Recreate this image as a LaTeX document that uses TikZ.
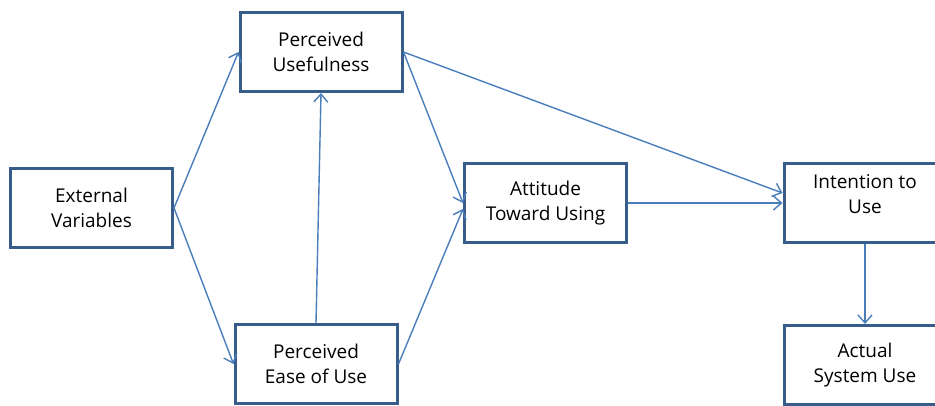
\documentclass[tikz,border=0pt]{standalone}
\usepackage{fontspec}
\setmainfont{Open Sans}
\usetikzlibrary{arrows.meta}
\definecolor{boxblue}{HTML}{385D8A}
\definecolor{lineblue}{HTML}{4A7EBB}

\begin{document}
\begin{tikzpicture}[x=1pt,y=-1pt,
  font=\fontsize{19}{25}\selectfont,
  factor/.style={draw=boxblue,line width=3pt,fill=white,align=center,
    minimum width=162pt,minimum height=79pt,inner sep=0},
  plain/.style={},
  raised/.style={text depth=17pt},
  link/.style={-{Straight Barb[length=8pt,width=14pt]},draw=lineblue,line width=1.4pt}]
  \useasboundingbox (0,0) rectangle (935,405);
  \foreach \name/\x/\y/\opt/\txt in {
    ev/91.5/208/plain/{External\\Variables},pu/321/52/plain/{Perceived\\Usefulness},
    peou/316/364/plain/{Perceived\\Ease of Use},att/545.5/203/plain/{Attitude\\Toward Using},
    int/865/203/raised/{Intention to\\Use},asu/865/365/plain/{Actual\\System Use}}
    \node[factor,\opt] (\name) at (\x,\y) {\txt};

  \foreach \a/\b in {ev.east/pu.west,ev.east/peou.west,peou.north/pu.south,
    pu.east/att.west,att.east/int.west,int.south/asu.north} {
    \draw[link] (\a) -- (\b);
  }
  \draw[link] (peou.east) -- ([yshift=-6pt]att.west);
  \draw[link] (pu.east) -- ([yshift=10pt]int.west);
\end{tikzpicture}
\end{document}
